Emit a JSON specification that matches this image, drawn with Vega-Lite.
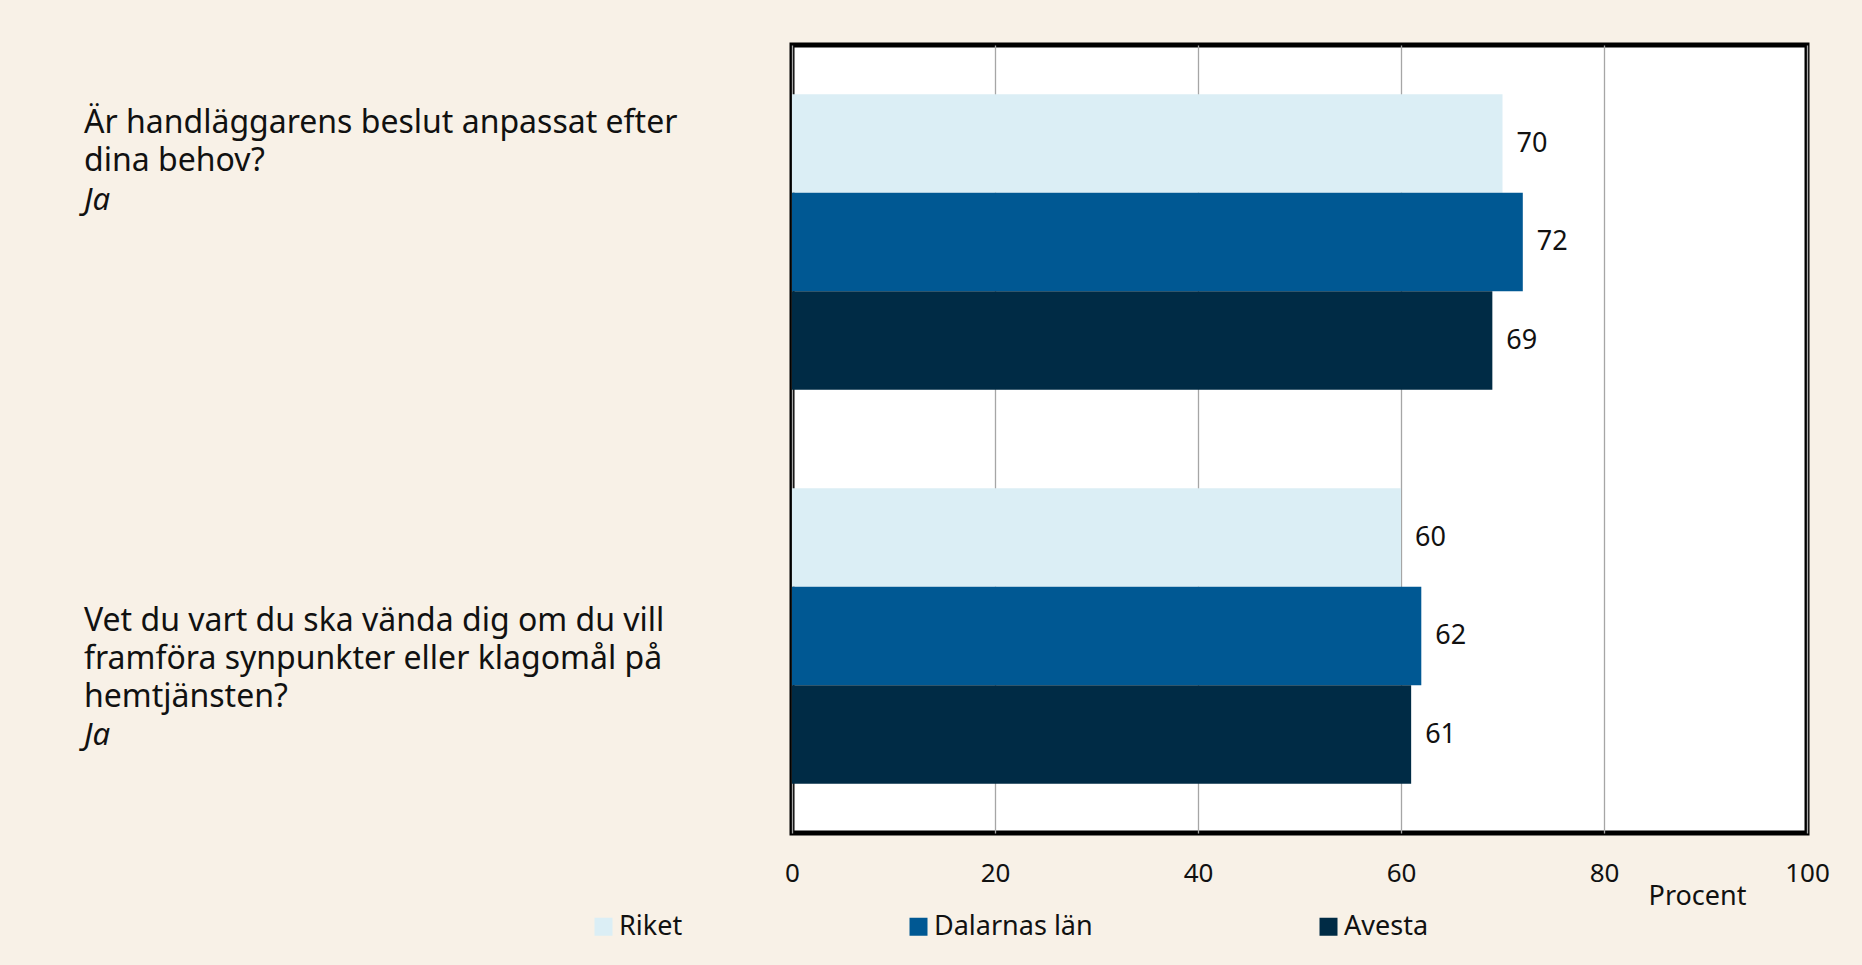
{
  "$schema": "https://vega.github.io/schema/vega-lite/v6.json",
  "background": "#f8f1e7",
  "padding": {"left": 84, "top": 42, "right": 40, "bottom": 30},
  "bounds": "flush",
  "spacing": 8,
  "config": {"view": {"stroke": null}, "font": "Noto Sans"},
  "datasets": {
    "bars": [
      {"q": "q1", "region": "Riket", "value": 70},
      {"q": "q1", "region": "Dalarnas län", "value": 72},
      {"q": "q1", "region": "Avesta", "value": 69},
      {"q": "q2", "region": "Riket", "value": 60},
      {"q": "q2", "region": "Dalarnas län", "value": 62},
      {"q": "q2", "region": "Avesta", "value": 61}
    ],
    "questions": [
      {"q": "q1", "text": "Är handläggarens beslut anpassat efter\ndina behov?", "answer": "Ja"},
      {"q": "q2", "text": "Vet du vart du ska vända dig om du vill\nframföra synpunkter eller klagomål på\nhemtjänsten?", "answer": "Ja"}
    ]
  },
  "hconcat": [
    {
      "width": 700,
      "height": 788,
      "data": {"name": "questions"},
      "resolve": {"scale": {"y": "independent"}},
      "layer": [
        {
          "mark": {"type": "text", "align": "left", "baseline": "line-top", "lineBreak": "\n", "lineHeight": 38, "fontSize": 32, "color": "#111111"},
          "encoding": {
            "y": {"field": "q", "type": "nominal", "scale": {"type": "point", "padding": 0.2907, "align": 0.206}, "axis": null},
            "x": {"datum": 0, "type": "quantitative", "scale": {"domain": [0, 1]}, "axis": null},
            "text": {"field": "text"}
          }
        },
        {
          "mark": {"type": "text", "align": "left", "baseline": "alphabetic", "fontSize": 31, "fontStyle": "italic", "color": "#111111"},
          "encoding": {
            "y": {"field": "q", "type": "nominal", "scale": {"type": "point", "padding": 0.236, "align": 0.652}, "axis": null},
            "x": {"datum": 0, "type": "quantitative", "scale": {"domain": [0, 1]}, "axis": null},
            "text": {"field": "answer"}
          }
        }
      ]
    },
    {
      "width": 1015,
      "height": 788,
      "view": {"stroke": "#000000", "strokeWidth": 5, "fill": "#ffffff"},
      "data": {"name": "bars"},
      "encoding": {
        "y": {"field": "q", "type": "nominal", "scale": {"paddingInner": 0.25, "paddingOuter": 0.125}, "axis": null},
        "yOffset": {"field": "region", "type": "nominal", "sort": ["Riket", "Dalarnas län", "Avesta"], "scale": {"paddingInner": 0, "paddingOuter": 0}},
        "x": {
          "field": "value", "type": "quantitative",
          "scale": {"domain": [0, 100], "nice": false},
          "axis": {
            "values": [0, 20, 40, 60, 80, 100],
            "grid": true, "gridColor": "#a6a6a6", "gridWidth": 1.3,
            "domain": false, "ticks": false,
            "labelFontSize": 26, "labelPadding": 27, "labelColor": "#111111", "labelFlush": false,
            "title": "Procent", "titleFontSize": 27, "titleFontWeight": "normal", "titleColor": "#111111",
            "titleX": 905, "titleY": 63, "titleAlign": "center", "titleBaseline": "middle"
          }
        }
      },
      "layer": [
        {
          "mark": {"type": "bar"},
          "encoding": {
            "color": {
              "field": "region", "type": "nominal",
              "scale": {"domain": ["Riket", "Dalarnas län", "Avesta"], "range": ["#dbeef5", "#005893", "#002b45"]},
              "legend": {
                "orient": "none", "legendX": 506, "legendY": 868, "direction": "horizontal", "title": null,
                "symbolType": "square", "symbolSize": 324, "symbolStrokeWidth": 0,
                "labelFontSize": 27, "labelColor": "#111111", "labelOffset": 2, "columnPadding": 222
              }
            }
          }
        },
        {
          "mark": {"type": "text", "align": "left", "dx": 14, "baseline": "middle", "fontSize": 27, "color": "#111111"},
          "encoding": {"text": {"field": "value", "type": "quantitative"}}
        }
      ]
    }
  ]
}
